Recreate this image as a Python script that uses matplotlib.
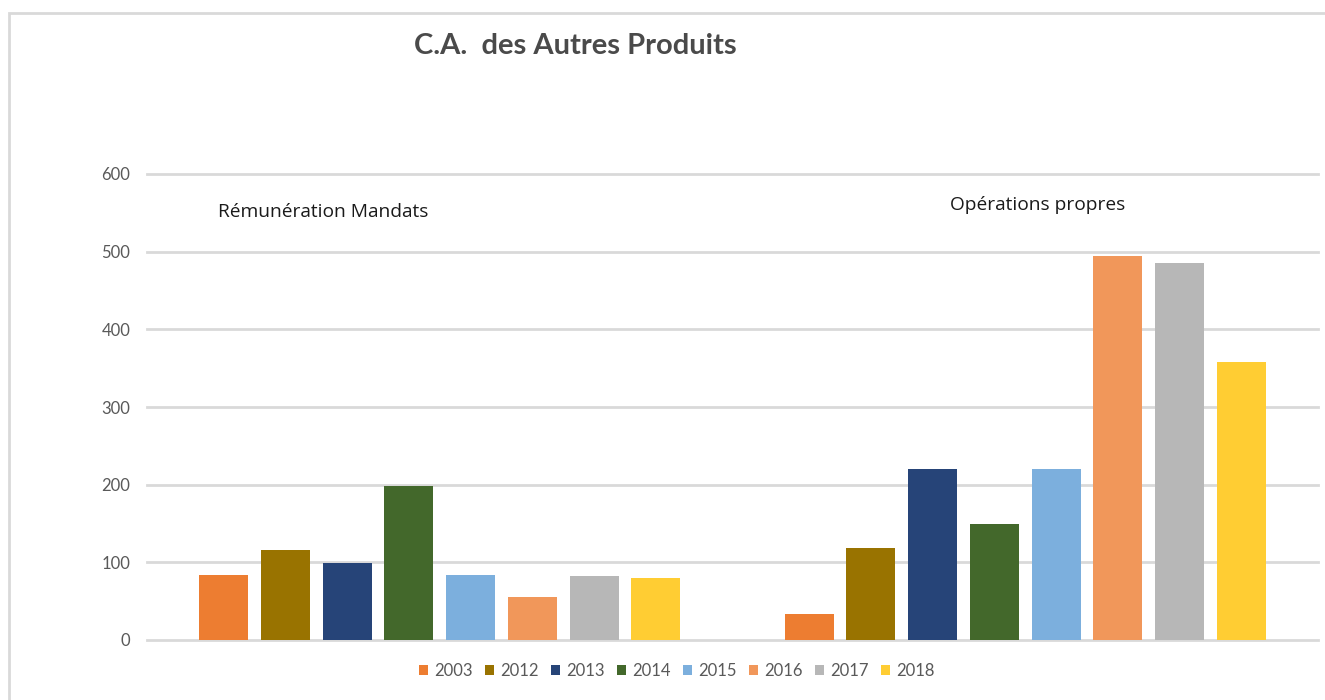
import numpy as np
import matplotlib.pyplot as plt
from matplotlib.patches import Rectangle

# data
categories = ["Rémunération Mandats", "Opérations propres"]
years = ["2003", "2012", "2013", "2014", "2015", "2016", "2017", "2018"]
v2003 = [84, 33]
v2012 = [116, 118]
v2013 = [99, 220]
v2014 = [198, 149]
v2015 = [84, 220]
v2016 = [55, 494]
v2017 = [82, 485]
v2018 = [80, 358]
series = [v2003, v2012, v2013, v2014, v2015, v2016, v2017, v2018]
colors = ["#ED7D31", "#997300", "#264478", "#43682B",
          "#7CAFDD", "#F1975A", "#B7B7B7", "#FFCD33"]
yticks = [0, 100, 200, 300, 400, 500, 600]

plt.rcParams['font.family'] = ['Open Sans', 'DejaVu Sans']
narrow = ['Lato', 'DejaVu Sans']

fig = plt.figure(figsize=(13.25, 7), dpi=100)
ax = fig.add_axes([147 / 1325, 60 / 700, 1171 / 1325, 466 / 700])

x = np.arange(len(categories))
step = 0.1054
width = 0.0837
for i, (vals, col) in enumerate(zip(series, colors)):
    off = (i - (len(series) - 1) / 2) * step
    ax.bar(x + off, vals, width, color=col, label=years[i], zorder=3)

ax.set_xlim(-0.5, 1.5)
ax.set_ylim(0, 600)
ax.set_yticks(yticks)
ax.set_xticks([])
ax.grid(axis='y', color='#d9d9d9', linewidth=2, zorder=0)
for gl in ax.get_ygridlines():
    gl.set_clip_on(False)
for s in ax.spines.values():
    s.set_visible(False)
ax.tick_params(axis='y', length=0, pad=12, labelsize=12, labelcolor='#595959')
for lbl in ax.get_yticklabels():
    lbl.set_fontfamily(narrow)

# group names placed as text inside the plot
ax.text(-0.379, 551, categories[0], fontsize=13.8, color='#1a1a1a', va='center', ha='left')
ax.text(0.871, 560, categories[1], fontsize=13.8, color='#1a1a1a', va='center', ha='left')

fig.text(575 / 1325, 1 - 46 / 700, "C.A.  des Autres Produits", fontsize=21,
         fontweight='bold', color='#4a4a4a', ha='center', va='center',
         family=narrow)

leg = fig.legend(loc='center', bbox_to_anchor=(677 / 1325, 1 - 671 / 700), ncol=8,
                 frameon=False, fontsize=12, handlelength=0.55, handleheight=0.55,
                 handletextpad=0.35, columnspacing=0.75)
for t in leg.get_texts():
    t.set_color('#595959')
    t.set_fontfamily(narrow)

# chart border (only left and top visible in the crop)
fig.patches.append(Rectangle((9 / 1325, -0.1), 1.2, 1 - 13 / 700 + 0.1,
                             transform=fig.transFigure, fill=False,
                             edgecolor='#d9d9d9', linewidth=2))

fig.savefig("out.png", dpi=100)
